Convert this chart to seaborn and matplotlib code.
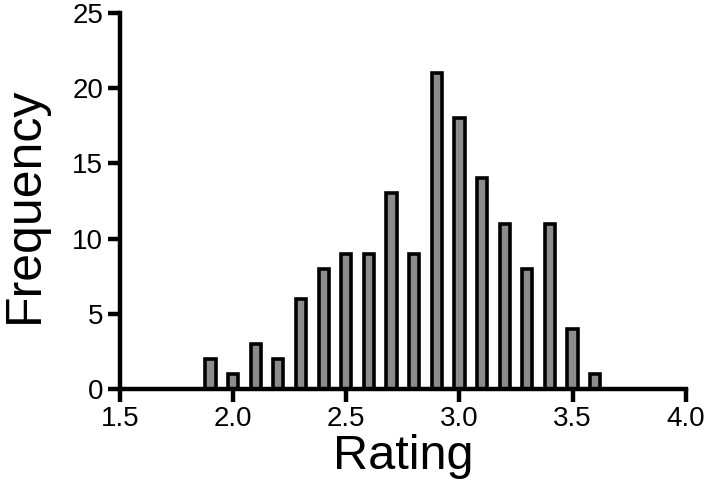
import matplotlib
matplotlib.use("Agg")
import matplotlib.pyplot as plt
import seaborn as sns
import pandas as pd

ratings = [1.9, 2.0, 2.1, 2.2, 2.3, 2.4, 2.5, 2.6, 2.7, 2.8, 2.9, 3.0, 3.1, 3.2, 3.3, 3.4, 3.5, 3.6]
frequency = [2, 1, 3, 2, 6, 8, 9, 9, 13, 9, 21, 18, 14, 11, 8, 11, 4, 1]
x_ticks = [1.5, 2.0, 2.5, 3.0, 3.5, 4.0]
y_ticks = [0, 5, 10, 15, 20, 25]

sns.set_theme(style="ticks")
plt.rcParams['font.family'] = ['Liberation Sans', 'DejaVu Sans']

df = pd.DataFrame({"Rating": ratings, "Frequency": frequency})

fig = plt.figure(figsize=(7.08, 5.0), dpi=100)
ax = fig.add_axes([0.1695, 0.222, 0.799, 0.752])

sns.barplot(data=df, x="Rating", y="Frequency", native_scale=True, width=0.45,
            color="#8c8c8c", saturation=1, edgecolor="black", linewidth=2.6, ax=ax)

ax.set_xlim(1.5, 4.0)
ax.set_ylim(0, 25)
ax.set_xticks(x_ticks)
ax.set_xticklabels([f"{t:.1f}" for t in x_ticks])
ax.set_yticks(y_ticks)
ax.set_yticklabels([str(t) for t in y_ticks])
for s in ["top", "right"]:
    ax.spines[s].set_visible(False)
for s in ["left", "bottom"]:
    ax.spines[s].set_linewidth(3.2)
    ax.spines[s].set_color("black")
    ax.spines[s].set_capstyle("projecting")
ax.tick_params(axis="both", length=9, width=3.2, colors="black", labelcolor="black",
               labelsize=20, pad=3)
ax.set_xlabel("Rating", fontsize=35, labelpad=2, color="black")
ax.set_ylabel("Frequency", fontsize=36, color="black")
ax.yaxis.set_label_coords(-0.128, 0.49)

fig.savefig("out.png", dpi=100)
